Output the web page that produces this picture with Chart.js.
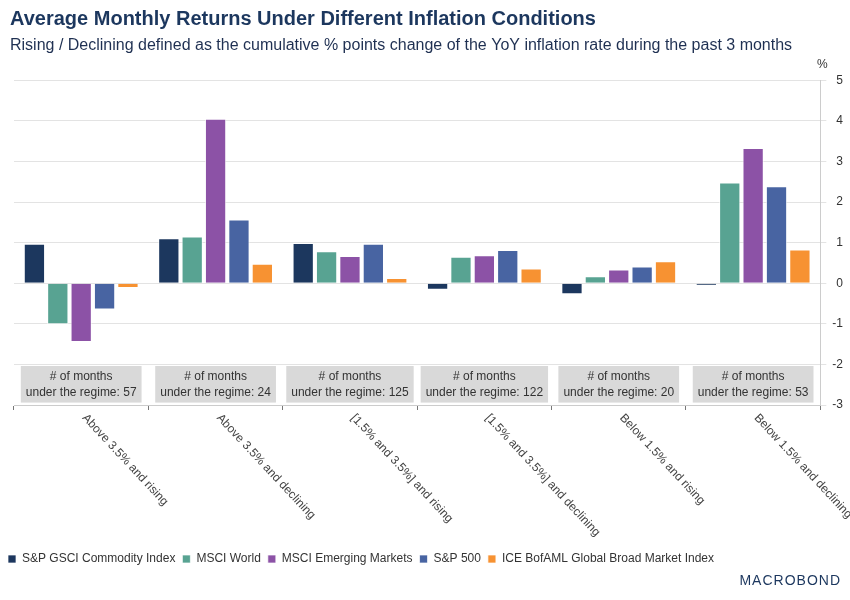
<!DOCTYPE html>
<html>
<head>
<meta charset="utf-8">
<script src="https://cdn.jsdelivr.net/npm/chart.js@4"></script>
<style>
  body { margin: 0; background: #fff; }
  #wrap { width: 850px; height: 600px; }
</style>
</head>
<body>
<div id="wrap"><canvas id="returnsChart"></canvas></div>
<script>
const categories = [
    'Above 3.5% and rising',
    'Above 3.5% and declining',
    '[1.5% and 3.5%] and rising',
    '[1.5% and 3.5%] and declining',
    'Below 1.5% and rising',
    'Below 1.5% and declining'
];
const monthsInRegime = [57, 24, 125, 122, 20, 53];

const gsci = [0.97, 1.11, 0.99, -0.16, -0.27, -0.06];
const msciWorld = [-1.01, 1.15, 0.79, 0.65, 0.17, 2.48];
const msciEm = [-1.45, 4.05, 0.67, 0.69, 0.34, 3.33];
const sp500 = [-0.65, 1.57, 0.97, 0.82, 0.41, 2.39];
const iceBofaml = [-0.12, 0.48, 0.13, 0.36, 0.54, 0.83];

const yTicks = { min: -3, max: 5, step: 1 };

const FONT = 'Arial, "Liberation Sans", sans-serif';
Chart.defaults.font.family = FONT;
Chart.defaults.color = '#333';

// gray boxes with the month counts, category labels, % unit and logo
const extras = {
    id: 'extras',
    afterLayout(chart) {
        // legend sits a bit further left than the plot
        chart.legend.left -= 9;
        chart.legend.right -= 9;
    },
    afterDraw(chart) {
        const ctx = chart.ctx;
        const x = chart.scales.x;
        const y = chart.scales.y;
        const area = chart.chartArea;

        ctx.save();
        ctx.font = '12px ' + FONT;
        const top = y.getPixelForValue(-2.04);
        const bot = y.getPixelForValue(-2.94);
        monthsInRegime.forEach(function(n, i) {
            const cx = x.getPixelForValue(i);
            const line2 = 'under the regime: ' + n;
            const w = ctx.measureText(line2).width + 10;
            ctx.fillStyle = '#d9d9d9';
            ctx.fillRect(cx - w / 2, top, w, bot - top);
            ctx.fillStyle = '#333';
            ctx.textAlign = 'center';
            ctx.textBaseline = 'middle';
            const mid = (top + bot) / 2;
            ctx.fillText('# of months', cx, mid - 8);
            ctx.fillText(line2, cx, mid + 8);
        });

        // rotated category labels
        ctx.fillStyle = '#444';
        ctx.textAlign = 'left';
        ctx.textBaseline = 'middle';
        categories.forEach(function(label, i) {
            const cx = x.getPixelForValue(i);
            ctx.save();
            ctx.translate(cx + 3, area.bottom + 11);
            ctx.rotate(47 * Math.PI / 180);
            ctx.fillText(label, 0, 0);
            ctx.restore();
        });

        // unit
        ctx.fillStyle = '#333';
        ctx.textAlign = 'center';
        ctx.fillText('%', area.right + 2, area.top - 16);

        // logo
        ctx.fillStyle = '#1c375e';
        ctx.font = '14px ' + FONT;
        ctx.textAlign = 'right';
        ctx.letterSpacing = '1px';
        ctx.fillText('MACROBOND', 841, 581);
        ctx.restore();
    }
};

const ctx = document.getElementById('returnsChart').getContext('2d');
const returnsChart = new Chart(ctx, {
    type: 'bar',
    data: {
        labels: categories,
        datasets: [
            { label: 'S&P GSCI Commodity Index', data: gsci, backgroundColor: '#1c375e', yAxisID: 'y' },
            { label: 'MSCI World', data: msciWorld, backgroundColor: '#58a392', yAxisID: 'y' },
            { label: 'MSCI Emerging Markets', data: msciEm, backgroundColor: '#8c52a6', yAxisID: 'y' },
            { label: 'S&P 500', data: sp500, backgroundColor: '#4864a2', yAxisID: 'y' },
            { label: 'ICE BofAML Global Broad Market Index', data: iceBofaml, backgroundColor: '#f79232', yAxisID: 'y' }
        ]
    },
    options: {
        responsive: true,
        maintainAspectRatio: false,
        animation: false,
        datasets: {
            bar: {
                categoryPercentage: 0.87,
                barPercentage: 0.91,
                borderWidth: 1,
                borderColor: 'rgba(255,255,255,0.7)'
            }
        },
        layout: {
            padding: { left: 10, right: 7, top: 0, bottom: 25 }
        },
        plugins: {
            title: {
                display: true,
                text: 'Average Monthly Returns Under Different Inflation Conditions',
                align: 'start',
                color: '#1c375e',
                font: { size: 20, weight: 'bold' },
                padding: { top: 7, bottom: 3 }
            },
            subtitle: {
                display: true,
                text: 'Rising / Declining defined as the cumulative % points change of the YoY inflation rate during the past 3 months',
                align: 'start',
                color: '#1f3052',
                font: { size: 16 },
                padding: { top: 2, bottom: 25 }
            },
            legend: {
                position: 'bottom',
                align: 'start',
                labels: {
                    boxWidth: 8,
                    boxHeight: 8,
                    padding: 7,
                    color: '#333',
                    font: { size: 12 }
                }
            },
            tooltip: { enabled: false }
        },
        scales: {
            x: {
                offset: true,
                ticks: { display: false },
                grid: {
                    drawOnChartArea: false,
                    color: '#777',
                    tickLength: 5
                },
                border: { color: '#ccc' },
                afterFit: function(scale) { scale.height = 141; }
            },
            y: {
                position: 'right',
                min: yTicks.min,
                max: yTicks.max,
                ticks: {
                    stepSize: yTicks.step,
                    crossAlign: 'far',
                    padding: 3,
                    color: '#333',
                    font: { size: 12 }
                },
                grid: {
                    color: '#e3e3e3',
                    tickLength: 6
                },
                border: { color: '#ccc' }
            },
            spacer: {
                type: 'linear',
                position: 'left',
                display: true,
                ticks: { display: false },
                grid: { display: false },
                border: { display: false },
                afterFit: function(scale) { scale.width = 4; }
            }
        }
    },
    plugins: [extras]
});
</script>
</body>
</html>
